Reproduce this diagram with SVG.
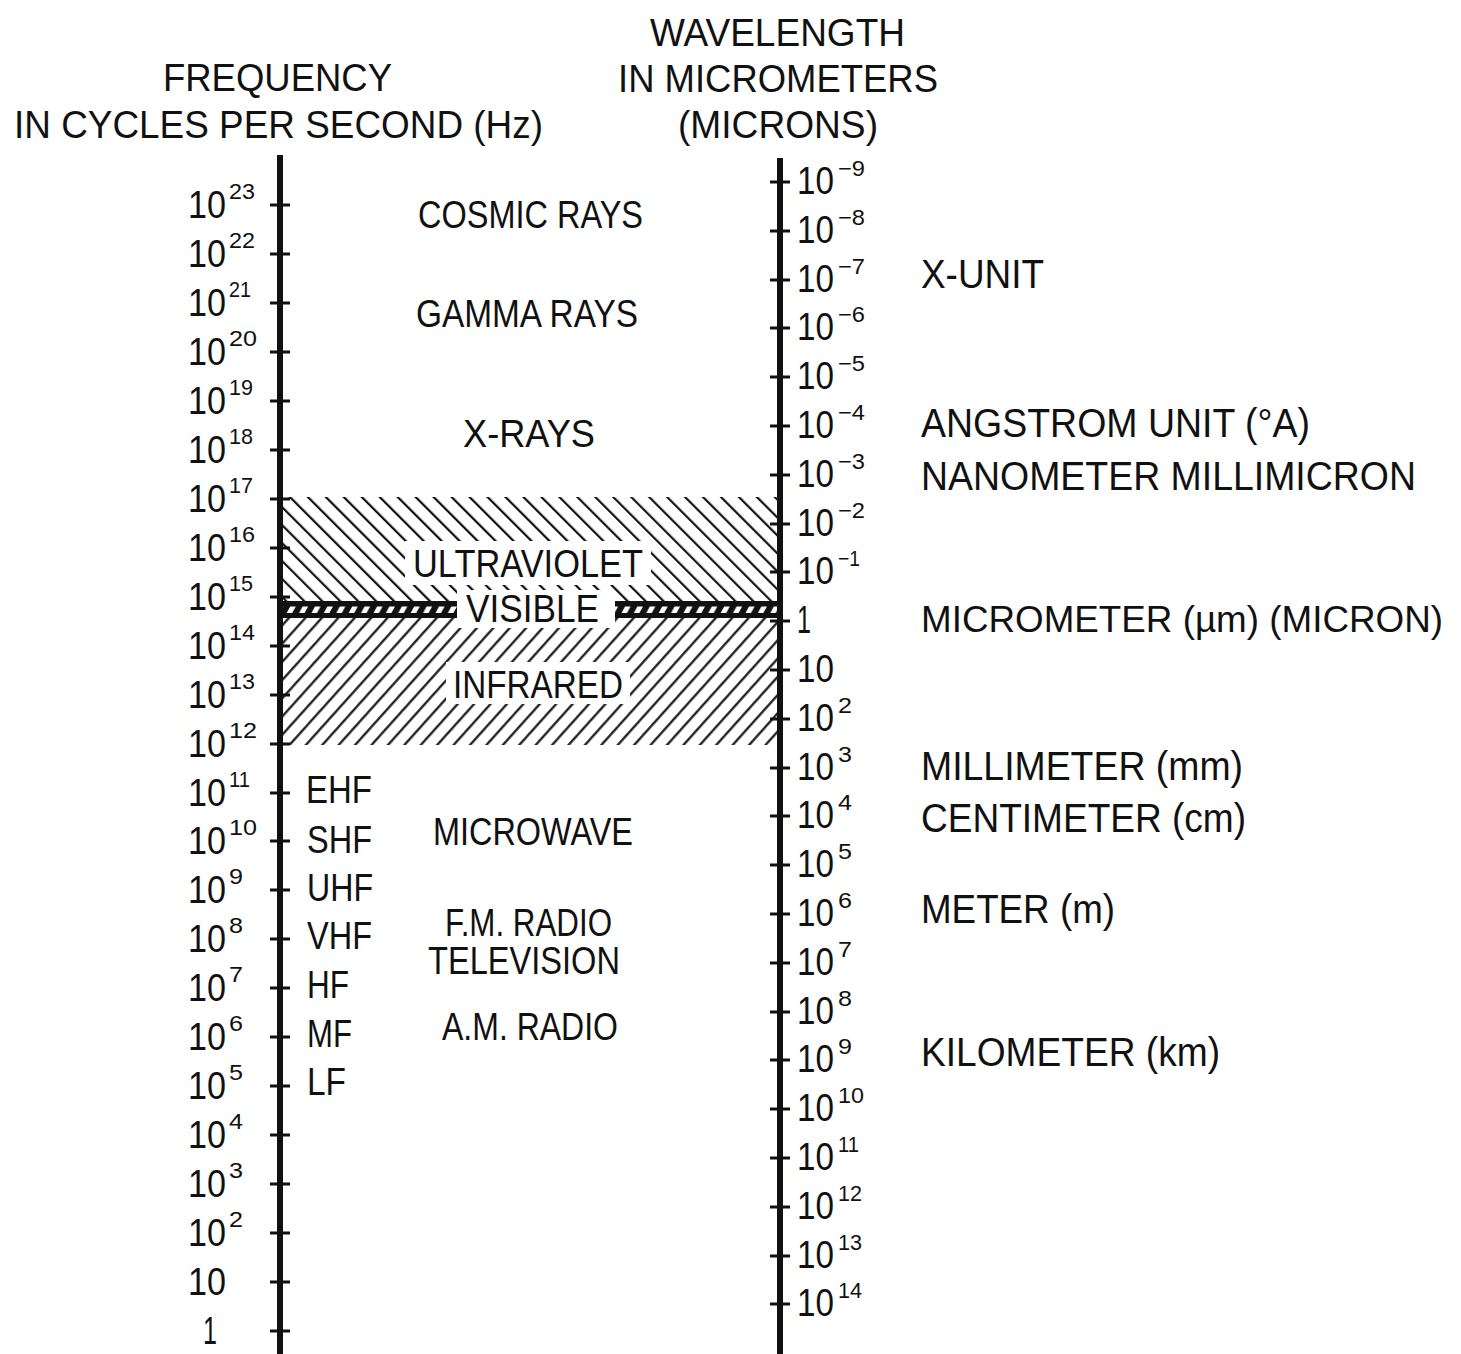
<svg xmlns="http://www.w3.org/2000/svg" width="1461" height="1354" viewBox="0 0 1461 1354">
<style>
text{font-family:"Liberation Sans",Arial,sans-serif;fill:#111}
.hd{font-size:38px}
.lb{font-size:38px}
.rl{font-size:40px}
.b{font-size:38px}
.s{font-size:22px}
.ax{stroke:#111;stroke-width:6;fill:none}
.tk{stroke:#111;stroke-width:3}
</style>
<defs>
<pattern id="hUV" patternUnits="userSpaceOnUse" width="12.7" height="12.7" patternTransform="rotate(-45)">
<line x1="6" y1="-1" x2="6" y2="14" stroke="#111" stroke-width="2.2"/>
</pattern>
<pattern id="hIR" patternUnits="userSpaceOnUse" width="12.2" height="12.2" patternTransform="rotate(42)">
<line x1="6" y1="-1" x2="6" y2="14" stroke="#111" stroke-width="2.2"/>
</pattern>
<pattern id="vis" patternUnits="userSpaceOnUse" x="0" y="601" width="12.4" height="17">
<rect width="12.4" height="17" fill="#111"/>
<polygon points="1.5,12 7,12 10.5,5.5 5,5.5" fill="#fff"/>
</pattern>
</defs>
<rect width="1461" height="1354" fill="#fff"/>

<g id="headers">
<text class="hd" x="163" y="91" textLength="229" lengthAdjust="spacingAndGlyphs">FREQUENCY</text>
<text class="hd" x="14" y="138" textLength="529" lengthAdjust="spacingAndGlyphs">IN CYCLES PER SECOND (Hz)</text>
<text class="hd" x="650" y="46" textLength="255" lengthAdjust="spacingAndGlyphs">WAVELENGTH</text>
<text class="hd" x="618" y="92" textLength="320" lengthAdjust="spacingAndGlyphs">IN MICROMETERS</text>
<text class="hd" x="678" y="138" textLength="200" lengthAdjust="spacingAndGlyphs">(MICRONS)</text>
</g>

<g id="bands">
<rect x="283" y="497" width="494" height="104" fill="url(#hUV)"/>
<rect x="283" y="618" width="494" height="127" fill="url(#hIR)"/>
<rect x="283" y="601" width="174" height="17" fill="url(#vis)"/>
<rect x="615" y="601" width="162" height="17" fill="url(#vis)"/>
<rect x="405" y="541" width="246" height="44" fill="#fff"/>
<rect x="457" y="590" width="158" height="38" fill="#fff"/>
<rect x="446" y="662" width="184" height="42" fill="#fff"/>
</g>

<g id="axes">
<line class="ax" x1="280" y1="155" x2="280" y2="1354"/>
<line class="ax" x1="780" y1="158" x2="780" y2="1354"/>
<path class="tk" d="M270 205H290M270 254H290M270 303H290M270 352H290M270 401H290M270 450H290M270 499H290M270 548H290M270 597H290M270 646H290M270 695H290M270 744H290M270 793H290M270 841H290M270 890H290M270 939H290M270 988H290M270 1037H290M270 1086H290M270 1135H290M270 1184H290M270 1233H290M270 1282H290M270 1331H290"/>
<path class="tk" d="M770 182H790M770 231H790M770 280H790M770 328H790M770 377H790M770 426H790M770 475H790M770 524H790M770 572H790M770 621H790M770 670H790M770 719H790M770 768H790M770 816H790M770 865H790M770 914H790M770 963H790M770 1012H790M770 1060H790M770 1109H790M770 1158H790M770 1207H790M770 1256H790M770 1304H790"/>
</g>

<g id="freq-labels">
<text class="b" x="188" y="218" textLength="38" lengthAdjust="spacingAndGlyphs">10</text><text class="s" x="229" y="199" textLength="26" lengthAdjust="spacingAndGlyphs">23</text>
<text class="b" x="188" y="267" textLength="38" lengthAdjust="spacingAndGlyphs">10</text><text class="s" x="229" y="248" textLength="26" lengthAdjust="spacingAndGlyphs">22</text>
<text class="b" x="188" y="316" textLength="38" lengthAdjust="spacingAndGlyphs">10</text><text class="s" x="229" y="297" textLength="22" lengthAdjust="spacingAndGlyphs">21</text>
<text class="b" x="188" y="365" textLength="38" lengthAdjust="spacingAndGlyphs">10</text><text class="s" x="229" y="346" textLength="28" lengthAdjust="spacingAndGlyphs">20</text>
<text class="b" x="188" y="414" textLength="38" lengthAdjust="spacingAndGlyphs">10</text><text class="s" x="229" y="395" textLength="24" lengthAdjust="spacingAndGlyphs">19</text>
<text class="b" x="188" y="463" textLength="38" lengthAdjust="spacingAndGlyphs">10</text><text class="s" x="229" y="444" textLength="24" lengthAdjust="spacingAndGlyphs">18</text>
<text class="b" x="188" y="512" textLength="38" lengthAdjust="spacingAndGlyphs">10</text><text class="s" x="229" y="493" textLength="24" lengthAdjust="spacingAndGlyphs">17</text>
<text class="b" x="188" y="561" textLength="38" lengthAdjust="spacingAndGlyphs">10</text><text class="s" x="229" y="542" textLength="26" lengthAdjust="spacingAndGlyphs">16</text>
<text class="b" x="188" y="610" textLength="38" lengthAdjust="spacingAndGlyphs">10</text><text class="s" x="229" y="591" textLength="24" lengthAdjust="spacingAndGlyphs">15</text>
<text class="b" x="188" y="659" textLength="38" lengthAdjust="spacingAndGlyphs">10</text><text class="s" x="229" y="640" textLength="26" lengthAdjust="spacingAndGlyphs">14</text>
<text class="b" x="188" y="708" textLength="38" lengthAdjust="spacingAndGlyphs">10</text><text class="s" x="229" y="689" textLength="26" lengthAdjust="spacingAndGlyphs">13</text>
<text class="b" x="188" y="757" textLength="38" lengthAdjust="spacingAndGlyphs">10</text><text class="s" x="229" y="738" textLength="28" lengthAdjust="spacingAndGlyphs">12</text>
<text class="b" x="188" y="806" textLength="38" lengthAdjust="spacingAndGlyphs">10</text><text class="s" x="229" y="787" textLength="21" lengthAdjust="spacingAndGlyphs">11</text>
<text class="b" x="188" y="854" textLength="38" lengthAdjust="spacingAndGlyphs">10</text><text class="s" x="229" y="835" textLength="28" lengthAdjust="spacingAndGlyphs">10</text>
<text class="b" x="188" y="903" textLength="38" lengthAdjust="spacingAndGlyphs">10</text><text class="s" x="229" y="884" textLength="14" lengthAdjust="spacingAndGlyphs">9</text>
<text class="b" x="188" y="952" textLength="38" lengthAdjust="spacingAndGlyphs">10</text><text class="s" x="229" y="933" textLength="14" lengthAdjust="spacingAndGlyphs">8</text>
<text class="b" x="188" y="1001" textLength="38" lengthAdjust="spacingAndGlyphs">10</text><text class="s" x="229" y="982" textLength="14" lengthAdjust="spacingAndGlyphs">7</text>
<text class="b" x="188" y="1050" textLength="38" lengthAdjust="spacingAndGlyphs">10</text><text class="s" x="229" y="1031" textLength="14" lengthAdjust="spacingAndGlyphs">6</text>
<text class="b" x="188" y="1099" textLength="38" lengthAdjust="spacingAndGlyphs">10</text><text class="s" x="229" y="1080" textLength="14" lengthAdjust="spacingAndGlyphs">5</text>
<text class="b" x="188" y="1148" textLength="38" lengthAdjust="spacingAndGlyphs">10</text><text class="s" x="229" y="1129" textLength="14" lengthAdjust="spacingAndGlyphs">4</text>
<text class="b" x="188" y="1197" textLength="38" lengthAdjust="spacingAndGlyphs">10</text><text class="s" x="229" y="1178" textLength="14" lengthAdjust="spacingAndGlyphs">3</text>
<text class="b" x="188" y="1246" textLength="38" lengthAdjust="spacingAndGlyphs">10</text><text class="s" x="229" y="1227" textLength="14" lengthAdjust="spacingAndGlyphs">2</text>
<text class="b" x="188" y="1295" textLength="38" lengthAdjust="spacingAndGlyphs">10</text>
<text class="b" x="203" y="1344" textLength="14" lengthAdjust="spacingAndGlyphs">1</text>
</g>

<g id="wave-labels">
<text class="b" x="797" y="194" textLength="37" lengthAdjust="spacingAndGlyphs">10</text><text class="s" x="838" y="176" textLength="27" lengthAdjust="spacingAndGlyphs">−9</text>
<text class="b" x="797" y="243" textLength="37" lengthAdjust="spacingAndGlyphs">10</text><text class="s" x="838" y="225" textLength="27" lengthAdjust="spacingAndGlyphs">−8</text>
<text class="b" x="797" y="292" textLength="37" lengthAdjust="spacingAndGlyphs">10</text><text class="s" x="838" y="274" textLength="27" lengthAdjust="spacingAndGlyphs">−7</text>
<text class="b" x="797" y="340" textLength="37" lengthAdjust="spacingAndGlyphs">10</text><text class="s" x="838" y="322" textLength="27" lengthAdjust="spacingAndGlyphs">−6</text>
<text class="b" x="797" y="389" textLength="37" lengthAdjust="spacingAndGlyphs">10</text><text class="s" x="838" y="371" textLength="27" lengthAdjust="spacingAndGlyphs">−5</text>
<text class="b" x="797" y="438" textLength="37" lengthAdjust="spacingAndGlyphs">10</text><text class="s" x="838" y="420" textLength="27" lengthAdjust="spacingAndGlyphs">−4</text>
<text class="b" x="797" y="487" textLength="37" lengthAdjust="spacingAndGlyphs">10</text><text class="s" x="838" y="469" textLength="27" lengthAdjust="spacingAndGlyphs">−3</text>
<text class="b" x="797" y="536" textLength="37" lengthAdjust="spacingAndGlyphs">10</text><text class="s" x="838" y="518" textLength="27" lengthAdjust="spacingAndGlyphs">−2</text>
<text class="b" x="797" y="584" textLength="37" lengthAdjust="spacingAndGlyphs">10</text><text class="s" x="838" y="566" textLength="22" lengthAdjust="spacingAndGlyphs">−1</text>
<text class="b" x="797" y="633" textLength="14" lengthAdjust="spacingAndGlyphs">1</text>
<text class="b" x="797" y="682" textLength="37" lengthAdjust="spacingAndGlyphs">10</text>
<text class="b" x="797" y="731" textLength="37" lengthAdjust="spacingAndGlyphs">10</text><text class="s" x="838" y="713" textLength="14" lengthAdjust="spacingAndGlyphs">2</text>
<text class="b" x="797" y="780" textLength="37" lengthAdjust="spacingAndGlyphs">10</text><text class="s" x="838" y="762" textLength="14" lengthAdjust="spacingAndGlyphs">3</text>
<text class="b" x="797" y="828" textLength="37" lengthAdjust="spacingAndGlyphs">10</text><text class="s" x="838" y="810" textLength="14" lengthAdjust="spacingAndGlyphs">4</text>
<text class="b" x="797" y="877" textLength="37" lengthAdjust="spacingAndGlyphs">10</text><text class="s" x="838" y="859" textLength="14" lengthAdjust="spacingAndGlyphs">5</text>
<text class="b" x="797" y="926" textLength="37" lengthAdjust="spacingAndGlyphs">10</text><text class="s" x="838" y="908" textLength="14" lengthAdjust="spacingAndGlyphs">6</text>
<text class="b" x="797" y="975" textLength="37" lengthAdjust="spacingAndGlyphs">10</text><text class="s" x="838" y="957" textLength="14" lengthAdjust="spacingAndGlyphs">7</text>
<text class="b" x="797" y="1024" textLength="37" lengthAdjust="spacingAndGlyphs">10</text><text class="s" x="838" y="1006" textLength="14" lengthAdjust="spacingAndGlyphs">8</text>
<text class="b" x="797" y="1072" textLength="37" lengthAdjust="spacingAndGlyphs">10</text><text class="s" x="838" y="1054" textLength="14" lengthAdjust="spacingAndGlyphs">9</text>
<text class="b" x="797" y="1121" textLength="37" lengthAdjust="spacingAndGlyphs">10</text><text class="s" x="838" y="1103" textLength="26" lengthAdjust="spacingAndGlyphs">10</text>
<text class="b" x="797" y="1170" textLength="37" lengthAdjust="spacingAndGlyphs">10</text><text class="s" x="838" y="1152" textLength="21" lengthAdjust="spacingAndGlyphs">11</text>
<text class="b" x="797" y="1219" textLength="37" lengthAdjust="spacingAndGlyphs">10</text><text class="s" x="838" y="1201" textLength="24" lengthAdjust="spacingAndGlyphs">12</text>
<text class="b" x="797" y="1268" textLength="37" lengthAdjust="spacingAndGlyphs">10</text><text class="s" x="838" y="1250" textLength="24" lengthAdjust="spacingAndGlyphs">13</text>
<text class="b" x="797" y="1316" textLength="37" lengthAdjust="spacingAndGlyphs">10</text><text class="s" x="838" y="1298" textLength="24" lengthAdjust="spacingAndGlyphs">14</text>
</g>

<g id="spectrum-labels">
<text class="lb" x="418" y="228" textLength="225" lengthAdjust="spacingAndGlyphs">COSMIC RAYS</text>
<text class="lb" x="416" y="327" textLength="222" lengthAdjust="spacingAndGlyphs">GAMMA RAYS</text>
<text class="lb" x="463" y="447" textLength="132" lengthAdjust="spacingAndGlyphs">X-RAYS</text>
<text class="lb" x="413" y="577" textLength="230" lengthAdjust="spacingAndGlyphs">ULTRAVIOLET</text>
<text class="lb" x="466" y="622" textLength="133" lengthAdjust="spacingAndGlyphs">VISIBLE</text>
<text class="lb" x="453" y="698" textLength="170" lengthAdjust="spacingAndGlyphs">INFRARED</text>
<text class="lb" x="433" y="845" textLength="200" lengthAdjust="spacingAndGlyphs">MICROWAVE</text>
<text class="lb" x="445" y="936" textLength="167" lengthAdjust="spacingAndGlyphs">F.M. RADIO</text>
<text class="lb" x="428" y="974" textLength="192" lengthAdjust="spacingAndGlyphs">TELEVISION</text>
<text class="lb" x="442" y="1040" textLength="176" lengthAdjust="spacingAndGlyphs">A.M. RADIO</text>
</g>

<g id="band-labels">
<text class="lb" x="306" y="803" textLength="66" lengthAdjust="spacingAndGlyphs">EHF</text>
<text class="lb" x="307" y="853" textLength="65" lengthAdjust="spacingAndGlyphs">SHF</text>
<text class="lb" x="307" y="901" textLength="66" lengthAdjust="spacingAndGlyphs">UHF</text>
<text class="lb" x="307" y="949" textLength="65" lengthAdjust="spacingAndGlyphs">VHF</text>
<text class="lb" x="307" y="998" textLength="42" lengthAdjust="spacingAndGlyphs">HF</text>
<text class="lb" x="307" y="1047" textLength="45" lengthAdjust="spacingAndGlyphs">MF</text>
<text class="lb" x="307" y="1095" textLength="39" lengthAdjust="spacingAndGlyphs">LF</text>
</g>

<g id="unit-labels">
<text class="rl" x="921" y="288" textLength="123" lengthAdjust="spacingAndGlyphs">X-UNIT</text>
<text class="rl" x="921" y="437" textLength="389" lengthAdjust="spacingAndGlyphs">ANGSTROM UNIT (°A)</text>
<text class="rl" x="921" y="490" textLength="495" lengthAdjust="spacingAndGlyphs">NANOMETER MILLIMICRON</text>
<text class="rl" x="921" y="632" style="font-size:36.5px" textLength="522" lengthAdjust="spacingAndGlyphs">MICROMETER (µm) (MICRON)</text>
<text class="rl" x="921" y="780" textLength="322" lengthAdjust="spacingAndGlyphs">MILLIMETER (mm)</text>
<text class="rl" x="921" y="832" textLength="325" lengthAdjust="spacingAndGlyphs">CENTIMETER (cm)</text>
<text class="rl" x="921" y="923" textLength="194" lengthAdjust="spacingAndGlyphs">METER (m)</text>
<text class="rl" x="921" y="1066" textLength="299" lengthAdjust="spacingAndGlyphs">KILOMETER (km)</text>
</g>
</svg>
